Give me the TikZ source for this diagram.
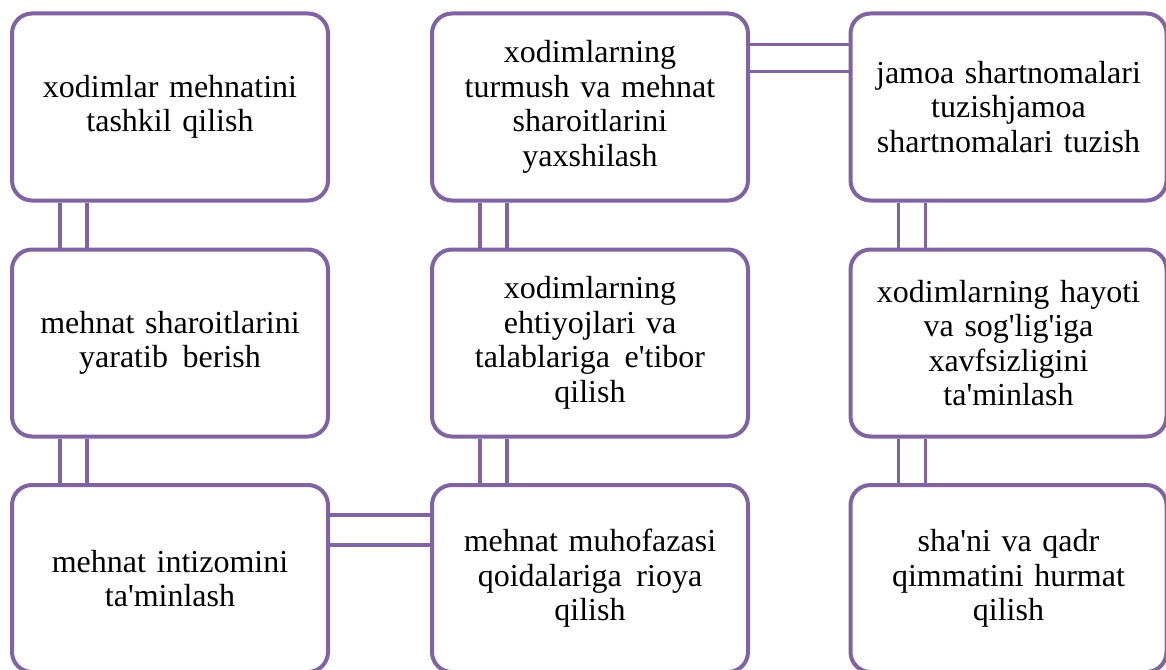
\documentclass[tikz,border=0pt]{standalone}
\usepackage{fontspec}
\setmainfont{Liberation Serif}[Ligatures=TeXOff]
\usepackage{xcolor}
\usepackage{tikz}

\begin{document}
\begin{tikzpicture}[x=1pt,y=-1pt]
  \definecolor{bpurple}{RGB}{128,100,162}
  \tikzset{
    duty/.style={draw=bpurple,line width=4pt,rounded corners=20pt,fill=white,
      minimum width=316pt,minimum height=187pt,align=center,
      font=\fontsize{32}{34.5}\selectfont,text width=290pt},
    link/.style={draw=bpurple,line width=3.5pt}
  }
  \useasboundingbox (0,0) rectangle (1166,669);
  \clip (0,0) rectangle (1166,669);
  % first column
  \node[duty] (tashkil) at (170,107) {xodimlar mehnatini\\ tashkil qilish};
  \node[duty] (sharoit) at (170,343) {mehnat sharoitlarini\\ yaratib\hspace{4pt} berish};
  \node[duty] (intizom) at (170,578.5) {mehnat intizomini\\ ta'minlash};
  % second column
  \node[duty] (turmush) at (590,107) {xodimlarning\\ turmush va mehnat\\ sharoitlarini\\ yaxshilash};
  \node[duty] (ehtiyoj) at (590,343) {xodimlarning\\ ehtiyojlari va\\ talablariga\hspace{4pt} e'tibor\\ qilish};
  \node[duty] (muhofaza) at (590,578.5) {mehnat muhofazasi\\ qoidalariga\hspace{4pt} rioya\\ qilish};
  % third column
  \node[duty] (jamoa) at (1008.5,107) {jamoa shartnomalari\\ tuzishjamoa\\ shartnomalari tuzish};
  \node[duty] (hayot) at (1008.5,343) {xodimlarning hayoti\\ va sog'lig'iga\\ xavfsizligini\\ ta'minlash};
  \node[duty] (qadr) at (1008.5,578.5) {sha'ni va qadr\\ qimmatini hurmat\\ qilish};
  % double links between boxes
  \foreach \a/\b in {tashkil/sharoit,sharoit/intizom,turmush/ehtiyoj,ehtiyoj/muhofaza,jamoa/hayot,hayot/qadr}{
    \draw[link] ([xshift=50pt]\a.south west) -- ([xshift=50pt]\b.north west);
    \draw[link] ([xshift=77pt]\a.south west) -- ([xshift=77pt]\b.north west);
  }
  \foreach \a/\b/\s/\t in {turmush/jamoa/33/60,intizom/muhofaza/32/62}{
    \draw[link] ([yshift=-\s pt]\a.north east) -- ([yshift=-\s pt]\b.north west);
    \draw[link] ([yshift=-\t pt]\a.north east) -- ([yshift=-\t pt]\b.north west);
  }
\end{tikzpicture}
\end{document}
